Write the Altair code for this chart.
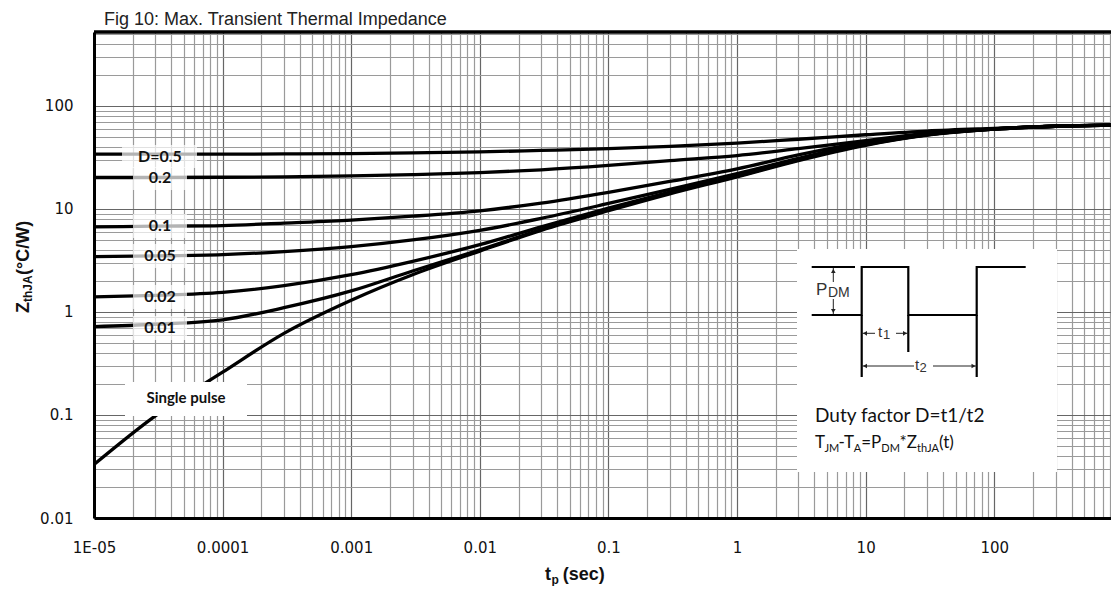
import altair as alt
import pandas as pd

# ---------------- data ----------------
tp = [1e-5, 3e-5, 1e-4, 3e-4, 1e-3, 3e-3, 1e-2, 3e-2, 0.1, 0.3, 1, 3, 10, 30, 100, 300, 809]
z_single = [0.033, 0.098, 0.26, 0.62, 1.3, 2.3, 3.9, 6.2, 9.6, 14, 20.5, 29.5, 41.5, 52, 59.5, 63.5, 65]
z_d001 = [0.72, 0.76, 0.84, 1.1, 1.6, 2.5, 4.0, 6.3, 9.8, 14.3, 20.8, 30, 42, 52.5, 59.5, 63.5, 65]
z_d002 = [1.4, 1.45, 1.55, 1.8, 2.3, 3.1, 4.5, 6.7, 10.2, 14.6, 21, 30.5, 42.5, 52.5, 59.5, 63.5, 65]
z_d005 = [3.45, 3.5, 3.6, 3.85, 4.3, 5.0, 6.2, 8.1, 11.3, 15.5, 22, 31, 43, 53, 60, 63.5, 65]
z_d01 = [6.7, 6.8, 6.9, 7.3, 7.8, 8.5, 9.6, 11.4, 14.5, 18.5, 24.5, 33.5, 44.5, 53.5, 60, 63.5, 65]
z_d02 = [20.2, 20.2, 20.3, 20.5, 20.9, 21.5, 22.5, 24, 26.5, 29.5, 33, 38.5, 46, 54, 60, 63.5, 65]
z_d05 = [34, 34, 34, 34.2, 34.5, 35, 35.8, 37, 38.5, 40.5, 43.5, 47.5, 52.5, 57, 60.5, 63.5, 65]

series_names = ["Single pulse", "0.01", "0.02", "0.05", "0.1", "0.2", "D=0.5"]
series_vals = [z_single, z_d001, z_d002, z_d005, z_d01, z_d02, z_d05]

curve_labels = ["D=0.5", "0.2", "0.1", "0.05", "0.02", "0.01"]

X_MAX = 809
Y_MAX = 522
W, H = 1017, 486

rows = []
for name, vals in zip(series_names, series_vals):
    for t, z in zip(tp, vals):
        rows.append({"series": name, "tp": t, "z": z})
df = pd.DataFrame(rows)

x_grid = [m * 10.0 ** e for e in range(-5, 3) for m in range(1, 10) if m * 10.0 ** e <= X_MAX]
y_grid = [m * 10.0 ** e for e in range(-2, 3) for m in range(1, 10) if m * 10.0 ** e <= Y_MAX]

is_major = "abs(log(datum.value)/LN10 - round(log(datum.value)/LN10)) < 0.001"
x_label_expr = f"datum.value < 0.000015 ? '1E-05' : ({is_major} ? format(datum.value, '~g') : '')"
y_label_expr = f"{is_major} ? format(datum.value, '~g') : ''"
grid_color = {"condition": {"test": is_major, "value": "#666666"}, "value": "#9a9a9a"}

common_axis = dict(
    grid=True, gridColor=grid_color, gridWidth=1.2,
    domain=True, domainColor="black", domainWidth=3,
    ticks=False, tickSize=0, title=None,
    labelFont="DejaVu Sans", labelFontSize=15, labelColor="#111111",
    labelOverlap=False, labelFlush=False, labelBound=False,
)

curves = alt.Chart(df).mark_line(color="black", strokeWidth=3.3, interpolate="monotone").encode(
    x=alt.X("tp:Q", scale=alt.Scale(type="log", domain=[1e-5, X_MAX], nice=False),
            axis=alt.Axis(values=x_grid, labelExpr=x_label_expr, labelPadding=22, **common_axis)),
    y=alt.Y("z:Q", scale=alt.Scale(type="log", domain=[0.01, Y_MAX], nice=False),
            axis=alt.Axis(values=y_grid, labelExpr=y_label_expr, labelPadding=21, **common_axis)),
    detail="series:N",
)

px = dict(scale=None, axis=None)

# label background boxes (pixel positions inside plot)
box_df = pd.DataFrame({
    "x": [28, 39, 39, 39, 39, 39], "x2": [103, 93, 93, 93, 93, 93],
    "y": [113, 135, 182, 212, 253, 284], "y2": [136, 158, 206, 236, 277, 308],
})
label_boxes = alt.Chart(box_df).mark_rect(color="white", opacity=0.7).encode(
    x=alt.X("x:Q", **px), x2="x2:Q", y=alt.Y("y:Q", **px), y2="y2:Q")

lab_df = pd.DataFrame({"text": curve_labels, "x": [66] * 6, "y": [125, 146, 194, 224, 265, 296]})
curve_text = alt.Chart(lab_df).mark_text(font="Lato", fontWeight="bold", fontSize=16,
                                         color="#111111", align="center", baseline="middle").encode(
    x=alt.X("x:Q", **px), y=alt.Y("y:Q", **px), text="text:N")

# white boxes: single pulse label and inset
wbox_df = pd.DataFrame({"x": [31, 703], "x2": [153, 963], "y": [350, 217], "y2": [384, 440]})
white_boxes = alt.Chart(wbox_df).mark_rect(color="white").encode(
    x=alt.X("x:Q", **px), x2="x2:Q", y=alt.Y("y:Q", **px), y2="y2:Q")

sp_df = pd.DataFrame({"text": ["Single pulse"], "x": [92], "y": [366]})
sp_text = alt.Chart(sp_df).mark_text(font="Lato", fontWeight="bold", fontSize=15, color="#111111",
                                     align="center", baseline="middle").encode(
    x=alt.X("x:Q", **px), y=alt.Y("y:Q", **px), text="text:N")

# inset waveform
wave_df = pd.DataFrame({
    "x": [717.7, 767.7, 767.7, 814.3, 814.3, 882.7, 882.7, 931.7],
    "y": [283, 283, 235, 235, 283, 283, 235, 235],
    "o": list(range(8)),
})
wave = alt.Chart(wave_df).mark_line(color="black", strokeWidth=2.2).encode(
    x=alt.X("x:Q", **px), y=alt.Y("y:Q", **px), order="o:Q")

thick_seg = pd.DataFrame({
    "x": [717.7, 767.7, 814.3, 882.7], "x2": [761, 767.7, 814.3, 882.7],
    "y": [235, 283, 283, 283], "y2": [235, 345, 320, 345],
})
thick_rules = alt.Chart(thick_seg).mark_rule(color="black", strokeWidth=2.2).encode(
    x=alt.X("x:Q", **px), x2="x2:Q", y=alt.Y("y:Q", **px), y2="y2:Q")

thin_seg = pd.DataFrame({
    "x": [739.3, 739.3, 767.7, 802, 767.7, 839], "x2": [739.3, 739.3, 781, 814.3, 820, 882.7],
    "y": [236, 267, 301.3, 301.3, 334, 334], "y2": [250, 282, 301.3, 301.3, 334, 334],
})
thin_rules = alt.Chart(thin_seg).mark_rule(color="#222222", strokeWidth=1).encode(
    x=alt.X("x:Q", **px), x2="x2:Q", y=alt.Y("y:Q", **px), y2="y2:Q")

heads = pd.DataFrame({
    "x": [739.3, 739.3, 771, 811, 771, 879.5],
    "y": [239, 279, 301.3, 301.3, 334, 334],
    "shape": ["triangle-up", "triangle-down", "triangle-left", "triangle-right", "triangle-left", "triangle-right"],
})
arrowheads = alt.Chart(heads).mark_point(filled=True, color="#222222", size=22, opacity=1).encode(
    x=alt.X("x:Q", **px), y=alt.Y("y:Q", **px), shape=alt.Shape("shape:N", scale=None))

diag_main = pd.DataFrame({"text": ["P", "t", "t"], "x": [722, 784, 821], "y": [263, 304.7, 338], "s": [17, 15, 15]})
diag_sub = pd.DataFrame({"text": ["DM", "1", "2"], "x": [734, 789, 825.5], "y": [265, 306.5, 340], "s": [14, 13, 13]})
diag_text = alt.Chart(diag_main).mark_text(font="Liberation Sans", color="#333333", align="left",
                                           baseline="alphabetic").encode(
    x=alt.X("x:Q", **px), y=alt.Y("y:Q", **px), text="text:N", size=alt.Size("s:Q", scale=None))
diag_text2 = alt.Chart(diag_sub).mark_text(font="Liberation Sans", color="#333333", align="left",
                                           baseline="alphabetic").encode(
    x=alt.X("x:Q", **px), y=alt.Y("y:Q", **px), text="text:N", size=alt.Size("s:Q", scale=None))

inset_main = pd.DataFrame({
    "text": ["Duty factor D=t1/t2", "T", "-T", "=P", "*Z", "(t)"],
    "x": [721, 721, 744.6, 767.2, 805.5, 845],
    "y": [389.7, 416, 416, 416, 416, 416],
    "s": [19, 17, 17, 17, 17, 17],
})
inset_sub = pd.DataFrame({
    "text": ["JM", "A", "DM", "thJA"],
    "x": [730.4, 759.7, 787.3, 823],
    "y": [420, 420, 420, 420],
})
inset_text = alt.Chart(inset_main).mark_text(font="Lato", color="#111111", align="left",
                                             baseline="alphabetic").encode(
    x=alt.X("x:Q", **px), y=alt.Y("y:Q", **px), text="text:N", size=alt.Size("s:Q", scale=None))
inset_text2 = alt.Chart(inset_sub).mark_text(font="Lato", fontSize=11, color="#111111", align="left",
                                             baseline="alphabetic").encode(
    x=alt.X("x:Q", **px), y=alt.Y("y:Q", **px), text="text:N")

# axis titles and chart title (composed for subscripts)
xt_main = pd.DataFrame({"text": ["t", "(sec)"], "x": [451, 468.7], "y": [548, 548]})
xt_sub = pd.DataFrame({"text": ["p"], "x": [457.5], "y": [552]})
xtitle1 = alt.Chart(xt_main).mark_text(font="Liberation Sans", fontWeight="bold", fontSize=18, color="#111111",
                                       align="left", baseline="alphabetic").encode(
    x=alt.X("x:Q", **px), y=alt.Y("y:Q", **px), text="text:N")
xtitle2 = alt.Chart(xt_sub).mark_text(font="Liberation Sans", fontWeight="bold", fontSize=12, color="#111111",
                                      align="left", baseline="alphabetic").encode(
    x=alt.X("x:Q", **px), y=alt.Y("y:Q", **px), text="text:N")

yt_main = pd.DataFrame({"text": ["Z", "(°C/W)"], "x": [-64.7, -64.7], "y": [281, 243]})
yt_sub = pd.DataFrame({"text": ["thJA"], "x": [-62], "y": [270]})
ytitle1 = alt.Chart(yt_main).mark_text(font="Liberation Sans", fontWeight="bold", fontSize=18, color="#111111",
                                       align="left", baseline="alphabetic", angle=270).encode(
    x=alt.X("x:Q", **px), y=alt.Y("y:Q", **px), text="text:N")
ytitle2 = alt.Chart(yt_sub).mark_text(font="Liberation Sans", fontWeight="bold", fontSize=12, color="#111111",
                                      align="left", baseline="alphabetic", angle=270).encode(
    x=alt.X("x:Q", **px), y=alt.Y("y:Q", **px), text="text:N")

title_df = pd.DataFrame({"text": ["Fig 10: Max. Transient Thermal Impedance"], "x": [10], "y": [-7]})
title = alt.Chart(title_df).mark_text(font="Liberation Sans", fontSize=18, color="#222222",
                                      align="left", baseline="alphabetic").encode(
    x=alt.X("x:Q", **px), y=alt.Y("y:Q", **px), text="text:N")

top_border = alt.Chart(title_df).mark_rule(color="black", strokeWidth=3.5).encode(
    x=alt.value(0), x2=alt.value(W), y=alt.value(0))

chart = alt.layer(
    curves, label_boxes, curve_text, white_boxes, sp_text,
    wave, thick_rules, thin_rules, arrowheads, diag_text, diag_text2,
    inset_text, inset_text2, xtitle1, xtitle2, ytitle1, ytitle2, title, top_border,
).resolve_scale(x="independent", y="independent").properties(
    width=W, height=H,
    padding={"left": 86, "top": 24, "right": 0, "bottom": 68},
    autosize=alt.AutoSizeParams(type="none"),
    background="white",
).configure_view(stroke=None)

chart.save("out.html", embed_options={"renderer": "svg", "actions": False})
